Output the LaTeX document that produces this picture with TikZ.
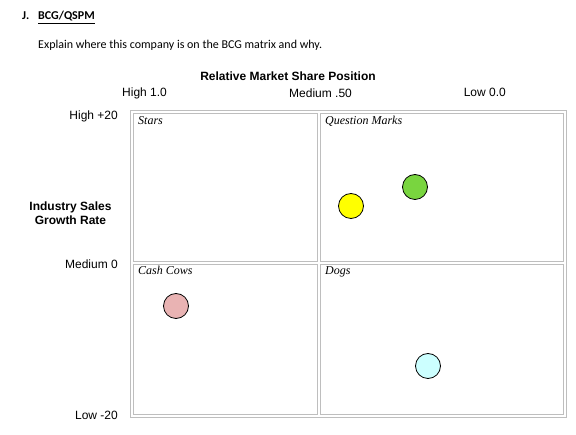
\documentclass[tikz,border=0pt]{standalone}
\usepackage{fontspec}
\setmainfont{Carlito}
\newfontfamily\arialfont{Liberation Sans}
\newfontfamily\timesfont{Liberation Serif}
\usetikzlibrary{positioning}
\definecolor{gridgray}{HTML}{BEBEBE}
\definecolor{qyellow}{HTML}{FFFF00}
\definecolor{qgreen}{HTML}{79D53F}
\definecolor{cowpink}{HTML}{E9B3B3}
\definecolor{dogcyan}{HTML}{CCFFFF}
\tikzset{
  heading/.style={font=\fontsize{12}{14}\selectfont, inner sep=0pt, anchor=base west},
  axislabel/.style={font=\arialfont\fontsize{12}{14}\selectfont, inner sep=0pt, anchor=base},
  cell/.style={draw=gridgray, line width=0.75pt, anchor=north west, inner sep=0pt},
  celltitle/.style={font=\timesfont\itshape\fontsize{12}{14}\selectfont, inner sep=0pt, anchor=base west},
  product/.style={circle, draw=black, line width=0.8pt, minimum size=25pt, inner sep=0pt}
}
\begin{document}
\begin{tikzpicture}[x=1pt, y=-1pt]
\useasboundingbox (0,0) rectangle (576,435);
% heading and question
\node[heading, font=\bfseries\fontsize{12}{14}\selectfont] (sect) at (22,20) {J.};
\node[heading, font=\bfseries\fontsize{12}{14}\selectfont] (title) at (38,20) {\underline{BCG/QSPM}};
\node[heading] (question) at (38,49) {Explain where this company is on the BCG matrix and why.};
% matrix frame and quadrants
\node[cell, minimum width=436pt, minimum height=307pt] (frame) at (130,110) {};
\node[cell, minimum width=184pt, minimum height=148pt] (stars) at (133,113) {};
\node[cell, minimum width=243pt, minimum height=148pt] (qmarks) at (320,113) {};
\node[cell, minimum width=184pt, minimum height=150pt] (cows) at (133,264) {};
\node[cell, minimum width=243pt, minimum height=150pt] (dogs) at (320,264) {};
\node[celltitle] (starslbl) at ([xshift=5pt, yshift=-12pt]stars.north west) {Stars};
\node[celltitle] (qmarkslbl) at ([xshift=5pt, yshift=-12pt]qmarks.north west) {Question Marks};
\node[celltitle] (cowslbl) at ([xshift=5pt, yshift=-11pt]cows.north west) {Cash Cows};
\node[celltitle] (dogslbl) at ([xshift=5pt, yshift=-11pt]dogs.north west) {Dogs};
% axis labels
\node[axislabel, font=\arialfont\bfseries\fontsize{12}{14}\selectfont] (rmsp) at (288,81) {Relative Market Share Position};
\node[axislabel, anchor=base west] (xhigh) at (122,97) {High 1.0};
\node[axislabel, anchor=base west] (xmed) at (289,98) {Medium .50};
\node[axislabel, anchor=base east] (xlow) at (506,97) {Low 0.0};
\node[axislabel, anchor=base east] (yhigh) at (118,120) {High +20};
\node[axislabel, font=\arialfont\bfseries\fontsize{12}{14}\selectfont] (industry) at (70.5,211) {Industry Sales};
\node[axislabel, font=\arialfont\bfseries\fontsize{12}{14}\selectfont] (growth) at ([yshift=-14pt]industry.base) {Growth Rate};
\node[axislabel, anchor=base east] (ymed) at (118,269) {Medium 0};
\node[axislabel, anchor=base east] (ylow) at (118,420) {Low -20};
% products
\node[product, fill=qyellow] (prodyellow) at (351,206) {};
\node[product, fill=qgreen] (prodgreen) at (415,187) {};
\node[product, fill=cowpink] (prodpink) at (176,306) {};
\node[product, fill=dogcyan] (prodcyan) at (428,366) {};
\end{tikzpicture}
\end{document}
